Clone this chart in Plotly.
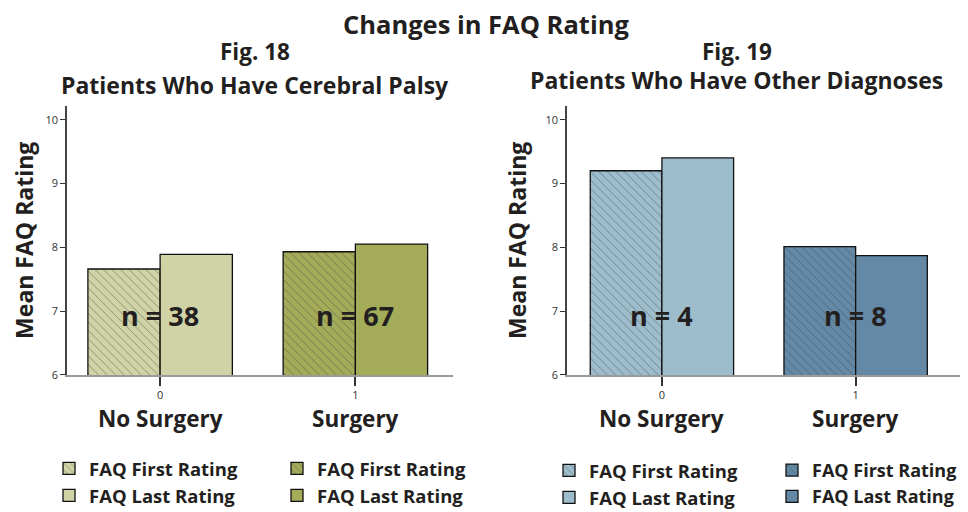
import plotly.graph_objs as go

# data
categories = [0, 1]
group_labels = ["No Surgery", "Surgery"]

cp_first = [7.66, 7.93]
cp_last = [7.89, 8.05]
cp_n = [38, 67]

other_first = [9.20, 8.01]
other_last = [9.40, 7.87]
other_n = [4, 8]

FONT = "Open Sans"
INK = "#231f20"
C = {
    "cp_light": "#d0d3a6",
    "cp_dark": "#a4ac5a",
    "ot_light": "#9ebdcc",
    "ot_dark": "#6389a6",
}
W = 0.37
FW, FH = 968, 512
OFFX, OFFY = 8, 4  # page offset of the plot div


def px(x):
    return (x - OFFX) / FW


def py(y):
    return 1 - (y - OFFY) / FH


fig = go.Figure()


def add_bar(xa, ya, i, y, color, hatched, name, legend):
    pat = dict(shape="\\", size=6, solidity=0.12, fgcolor="#3a3a3a", fgopacity=0.6) if hatched else dict(shape="")
    fig.add_trace(go.Bar(
        x=[categories[i]], y=[y], base=0,
        offset=-W if hatched else 0, width=W,
        marker=dict(color=color, line=dict(color="#111", width=1.3), pattern=pat),
        name=name, legend=legend,
        xaxis=xa, yaxis=ya,
    ))


# Fig. 18 — cerebral palsy
add_bar("x", "y", 0, cp_first[0], C["cp_light"], True, "FAQ First Rating", "legend")
add_bar("x", "y", 0, cp_last[0], C["cp_light"], False, "FAQ Last Rating", "legend")
add_bar("x", "y", 1, cp_first[1], C["cp_dark"], True, "FAQ First Rating", "legend2")
add_bar("x", "y", 1, cp_last[1], C["cp_dark"], False, "FAQ Last Rating", "legend2")

# Fig. 19 — other diagnoses
add_bar("x2", "y2", 0, other_first[0], C["ot_light"], True, "FAQ First Rating", "legend3")
add_bar("x2", "y2", 0, other_last[0], C["ot_light"], False, "FAQ Last Rating", "legend3")
add_bar("x2", "y2", 1, other_first[1], C["ot_dark"], True, "FAQ First Rating", "legend4")
add_bar("x2", "y2", 1, other_last[1], C["ot_dark"], False, "FAQ Last Rating", "legend4")

xax = dict(
    tickmode="array", tickvals=categories, ticktext=[str(c) for c in categories],
    ticks="outside", ticklen=9, tickwidth=2, tickcolor="#333",
    showline=True, linecolor="#9a9a9a", linewidth=2,
    showgrid=False, zeroline=False,
    tickfont=dict(family=FONT, size=11, color="#333"),
    fixedrange=True,
)
yax = dict(
    range=[6, 10.22], tickvals=[6, 7, 8, 9, 10],
    ticks="outside", ticklen=5, tickwidth=1, tickcolor="#333",
    showline=True, linecolor="#444", linewidth=1.5,
    showgrid=False, zeroline=False,
    tickfont=dict(family=FONT, size=11, color="#333"),
    title=dict(text="<b>Mean FAQ Rating</b>", font=dict(family=FONT, size=23, color=INK), standoff=12),
)

leg = dict(
    font=dict(family=FONT, size=18.5, color=INK, weight="bold"),
    bgcolor="rgba(0,0,0,0)", orientation="v",
    xanchor="left", yanchor="top", tracegroupgap=0, itemclick=False,
)

fig.update_layout(
    width=FW, height=FH,
    paper_bgcolor="white", plot_bgcolor="white",
    margin=dict(l=0, r=0, t=0, b=0),
    barmode="overlay", showlegend=True,
    xaxis=dict(xax, domain=[px(67), px(453)], range=[-0.477, 1.5], anchor="y"),
    yaxis=dict(yax, domain=[py(376), py(103)], anchor="x"),
    xaxis2=dict(xax, domain=[px(567), px(968)], range=[-0.49, 1.58], anchor="y2"),
    yaxis2=dict(yax, domain=[py(376), py(103)], anchor="x2"),
    legend=dict(leg, x=px(49), y=py(452)),
    legend2=dict(leg, x=px(277), y=py(452)),
    legend3=dict(leg, x=px(549), y=py(454)),
    legend4=dict(leg, x=px(772), y=py(454), font=dict(family=FONT, size=18, color=INK, weight="bold")),
)

ann = []


def label(text, x, y, size):
    ann.append(dict(text=f"<b>{text}</b>", x=px(x), y=py(y), xref="paper", yref="paper",
                    xanchor="center", yanchor="middle", showarrow=False,
                    font=dict(family=FONT, size=size, color=INK)))


label("Changes in FAQ Rating", 486, 20, 25.5)
label("Fig. 18", 255, 48, 22.5)
label("Patients Who Have Cerebral Palsy", 255, 82, 23)
label("Fig. 19", 737, 48, 22.5)
label("Patients Who Have Other Diagnoses", 736, 77, 23)

for xa, ya, ns in [("x", "y", cp_n), ("x2", "y2", other_n)]:
    for i, c in enumerate(categories):
        ann.append(dict(text=f"<b>{group_labels[i]}</b>", x=c, xref=xa, y=py(420), yref="paper",
                        xanchor="center", yanchor="middle", showarrow=False,
                        font=dict(family=FONT, size=22.5, color=INK)))
        ann.append(dict(text=f"<b>n = {ns[i]}</b>", x=c, xref=xa, y=6.93, yref=ya,
                        xanchor="center", yanchor="middle", showarrow=False,
                        font=dict(family=FONT, size=27, color=INK)))
fig.update_layout(annotations=ann)

fig.write_html("out.html")
